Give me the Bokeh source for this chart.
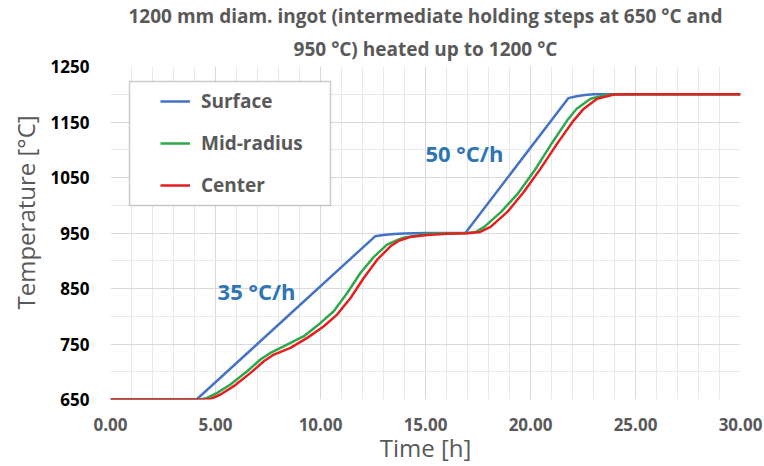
from bokeh.embed import file_html
from bokeh.models import (BoxAnnotation, FixedTicker, Label, Legend,
                          LegendItem, Range1d, Title)
from bokeh.plotting import figure
from bokeh.resources import INLINE

# Heating curves of a 1200 mm ingot: time [h] vs temperature [°C]
surface_time = [0.0, 4.1, 12.6, 13.0, 13.5, 14.0, 15.0, 16.9, 21.8, 22.2, 22.6, 23.0, 24.0, 30.0]
surface_temp = [650, 650, 944, 946.5, 948, 949, 950, 950, 1193, 1196.5, 1198.5, 1200, 1200, 1200]

mid_time = [0.0, 4.3, 4.6, 5.08, 5.71, 6.51, 7.14, 7.62, 8.41, 9.21, 10.0, 10.63, 11.27,
            11.9, 12.54, 13.17, 13.65, 14.0, 15.0, 16.0, 17.0, 17.4, 17.8, 18.6, 19.4,
            20.2, 20.95, 21.75, 22.2, 22.86, 23.5, 24.2, 25.0, 30.0]
mid_temp = [650, 650, 653, 662, 677, 701, 722, 734, 749, 764, 788, 809, 842,
            878, 907, 929, 937, 942, 948, 949.5, 950, 952, 961, 988, 1021,
            1063, 1108, 1153, 1174, 1192, 1198, 1200, 1200, 1200]

center_time = [0.0, 4.5, 4.76, 5.24, 5.87, 6.67, 7.3, 7.78, 8.57, 9.37, 10.16, 10.79, 11.43,
               12.06, 12.7, 13.33, 13.73, 14.29, 15.08, 16.03, 17.0, 17.6, 18.1, 18.9,
               19.68, 20.48, 21.27, 22.06, 22.54, 23.17, 23.97, 25.0, 30.0]
center_temp = [650, 650, 651, 659, 674, 698, 719, 731, 743, 761, 782, 803, 833,
               869, 902, 926, 936, 943, 946.6, 948.8, 949.5, 952, 961, 988,
               1024, 1066, 1111, 1153, 1174, 1192, 1199.6, 1200, 1200]

series_names = ["Surface", "Mid-radius", "Center"]
series_colors = ["#4472C4", "#2EA84C", "#E31F1F"]

x_ticks = [0, 5, 10, 15, 20, 25, 30]
x_tick_labels = ["0.00", "5.00", "10.00", "15.00", "20.00", "25.00", "30.00"]
y_ticks = [650, 750, 850, 950, 1050, 1150, 1250]
y_tick_labels = ["650", "750", "850", "950", "1050", "1150", "1250"]

rate_labels = ["35 °C/h", "50 °C/h"]

FONT = "Open Sans"
GREY = "#595959"

p = figure(width=764, height=466, output_backend="svg", toolbar_location=None,
           x_range=Range1d(0, 30), y_range=Range1d(650, 1250),
           min_border_left=110, min_border_right=24,
           min_border_top=66, min_border_bottom=66)
p.background_fill_color = "white"
p.border_fill_color = "white"
p.outline_line_color = None

# axes
p.xaxis.ticker = FixedTicker(ticks=x_ticks, minor_ticks=list(range(0, 31)))
p.xaxis.major_label_overrides = dict(zip(x_ticks, x_tick_labels))
p.yaxis.ticker = FixedTicker(ticks=y_ticks, minor_ticks=list(range(650, 1251, 50)))
p.yaxis.major_label_overrides = dict(zip(y_ticks, y_tick_labels))
for ax in (p.xaxis, p.yaxis):
    ax.axis_line_color = None
    ax.major_tick_line_color = None
    ax.minor_tick_line_color = None
    ax.major_label_text_font = FONT
    ax.major_label_text_font_style = "bold"
    ax.major_label_text_font_size = "17px"
p.xaxis.major_label_text_color = GREY
p.yaxis.major_label_text_color = "#000000"
p.xaxis.major_label_standoff = 12
p.yaxis.major_label_standoff = 15

p.xaxis.axis_label = "Time [h]"
p.xaxis.axis_label_standoff = -3
p.xaxis.axis_label_text_font = FONT
p.xaxis.axis_label_text_font_style = "normal"
p.xaxis.axis_label_text_font_size = "24px"
p.xaxis.axis_label_text_color = GREY

# grid
for g in (p.xgrid, p.ygrid):
    g.grid_line_color = "#D9D9D9"
    g.grid_line_width = 1
    g.minor_grid_line_color = "#E9E9E9"
    g.minor_grid_line_width = 1

# curves
series = [(surface_time, surface_temp), (mid_time, mid_temp), (center_time, center_temp)]
renderers = []
for (t, temp), color in zip(series, series_colors):
    r = p.line(t, temp, line_color=color, line_width=2.5, line_join="round")
    renderers.append(r)

# legend frame and entries
p.add_layout(BoxAnnotation(left=19, right=220, bottom=194, top=318,
                           left_units="screen", right_units="screen",
                           bottom_units="screen", top_units="screen",
                           fill_color="white", fill_alpha=1.0,
                           line_color=GREY, line_width=1.5))
legend = Legend(items=[LegendItem(label=n, renderers=[r]) for n, r in zip(series_names, renderers)],
                location=(42, 193), margin=0, padding=8,
                border_line_alpha=0, background_fill_alpha=0,
                glyph_width=30, glyph_height=26, label_height=26, spacing=16,
                label_standoff=11, label_text_font=FONT, label_text_font_style="bold",
                label_text_font_size="19px", label_text_color=GREY)
p.add_layout(legend)

# heating-rate annotations
p.add_layout(Label(x=5.1, y=846, text=rate_labels[0], text_font=FONT, text_font_style="bold",
                   text_font_size="22px", text_color="#2E75B6", text_baseline="middle"))
p.add_layout(Label(x=15.0, y=1095, text=rate_labels[1], text_font=FONT, text_font_style="bold",
                   text_font_size="22px", text_color="#2E75B6", text_baseline="middle"))

# vertical axis title, starting near the bottom of the frame
p.add_layout(Title(text="Temperature [°C]", align="left", offset=90, standoff=10,
                   text_font=FONT, text_font_style="normal", text_font_size="24px",
                   text_color=GREY, vertical_align="middle"), "left")

# chart title (two lines, the lower one added first so it sits next to the frame)
title_lines = ["1200 mm diam. ingot (intermediate holding steps at 650 °C and",
               "950 °C) heated up to 1200 °C"]
p.add_layout(Title(text=title_lines[1], align="center", standoff=10, text_font=FONT,
                   text_font_style="bold", text_font_size="19px", text_color=GREY), "above")
p.add_layout(Title(text=title_lines[0], align="center", standoff=0, text_font=FONT,
                   text_font_style="bold", text_font_size="19px", text_color=GREY), "above")

open("out.html", "w").write(file_html(p, INLINE))
